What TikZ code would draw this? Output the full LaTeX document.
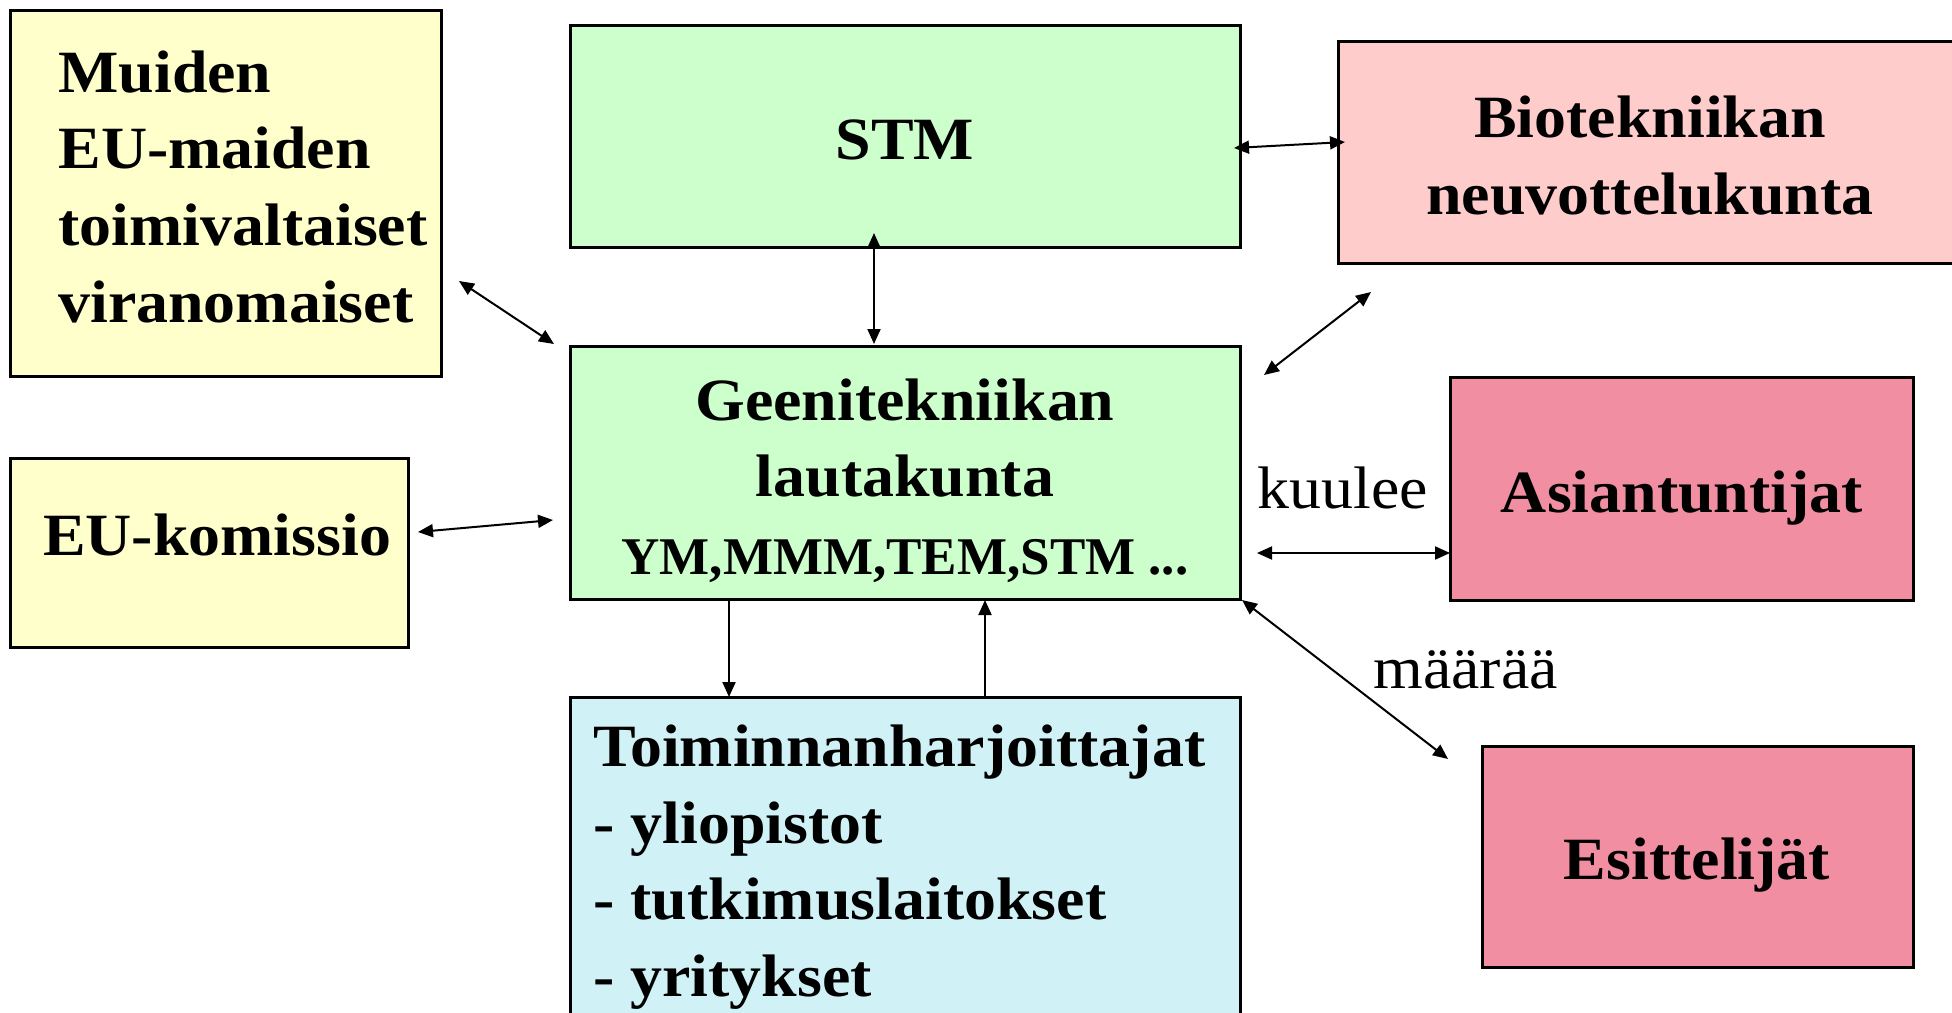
\documentclass[tikz,border=0pt]{standalone}
\usepackage{fontspec}
\setmainfont{Liberation Serif}[FakeStretch=1.065]
\newfontfamily\condfont{Liberation Serif}
\usetikzlibrary{arrows.meta,fit}
\definecolor{yel}{HTML}{FFFFCC}
\definecolor{grn}{HTML}{CCFFCC}
\definecolor{pnk}{HTML}{FFCCCC}
\definecolor{blu}{HTML}{D0F1F5}
\definecolor{redpat}{HTML}{F28EA2}
\tikzset{
  box/.style={draw=black, line width=1.5pt, inner sep=0pt},
  big/.style={font=\fontsize{30}{36}\selectfont\bfseries, inner sep=0pt},
  lbl/.style={font=\fontsize{30}{36}\selectfont, inner sep=0pt},
  tip/.tip={Triangle[length=7.5pt,width=6.5pt]},
  con/.style={line width=1pt, tip-tip},
  one/.style={line width=1pt, -tip},
}
\begin{document}
\begin{tikzpicture}[x=0.5pt,y=-0.5pt]
\useasboundingbox (0,0) rectangle (1952,1012);
% boxes
\node[box, fill=yel, fit={(10,10)(441,376)}] (muiden) {};
\node[box, fill=grn, fit={(570,25)(1240,247)}] (stm) {};
\node[box, fill=pnk, fit={(1338,41)(1965,263)}] (bio) {};
\node[box, fill=grn, fit={(570,346)(1240,599)}] (geeni) {};
\node[box, fill=yel, fit={(10,458)(408,647)}] (eu) {};
\node[box, fill=redpat, fit={(1450,377)(1913,600)}] (asi) {};
\node[box, fill=redpat, fit={(1482,746)(1913,967)}] (esi) {};
\node[box, fill=blu, fit={(570,697)(1240,1025)}] (toimi) {};
% texts
\node[big, anchor=base west] (m1) at (58,92) {Muiden};
\node[big, anchor=base west] (m2) at (58,168) {EU-maiden};
\node[big, anchor=base west] (m3) at (58,245) {toimivaltaiset};
\node[big, anchor=base west] (m4) at (58,322) {viranomaiset};
\node[big, anchor=base] (stmt) at (905,159) {STM};
\node[big, anchor=base] (b1) at (1650,137) {Biotekniikan};
\node[big, anchor=base] (b2) at (1650,214) {neuvottelukunta};
\node[big, anchor=base] (g1) at (905,420) {Geenitekniikan};
\node[big, anchor=base] (g2) at (905,496) {lautakunta};
\node[inner sep=0pt, anchor=base, font=\fontsize{26.5}{30}\condfont\bfseries] (g3) at (905,574) {YM,MMM,TEM,STM ...};
\node[big, anchor=base] (eut) at (217,555) {EU-komissio};
\node[big, anchor=base] (asit) at (1682,512) {Asiantuntijat};
\node[big, anchor=base] (esit) at (1697,879) {Esittelijät};
\node[big, anchor=base west] (t1) at (593,766) {Toiminnanharjoittajat};
\node[big, anchor=base west] (t2) at (593,843) {- yliopistot};
\node[big, anchor=base west] (t3) at (593,919) {- tutkimuslaitokset};
\node[big, anchor=base west] (t4) at (593,996) {- yritykset};
\node[lbl, anchor=base west] (kuulee) at (1257,508) {kuulee};
\node[lbl, anchor=base west] (maaraa) at (1373,688) {määrää};
% connector end points
\coordinate (a1) at (459,281); \coordinate (a2) at (554,344);
\coordinate (b1s) at (874,233); \coordinate (b2s) at (874,344);
\coordinate (c1) at (1234,148); \coordinate (c2) at (1345,142);
\coordinate (d1) at (1264,375); \coordinate (d2) at (1371,292);
\coordinate (e1) at (418,532); \coordinate (e2) at (553,520);
\coordinate (f1) at (1257,553); \coordinate (f2) at (1450,553);
\coordinate (h1) at (1242,600); \coordinate (h2) at (1448,759);
\coordinate (i1) at (729,599); \coordinate (i2) at (729,697);
\coordinate (j1) at (985,697); \coordinate (j2) at (985,600);
% connectors
\draw[con] (a1) -- (a2);
\draw[con] (b1s) -- (b2s);
\draw[con] (c1) -- (c2);
\draw[con] (d1) -- (d2);
\draw[con] (e1) -- (e2);
\draw[con] (f1) -- (f2);
\draw[con] (h1) -- (h2);
\draw[one] (i1) -- (i2);
\draw[one] (j1) -- (j2);
\end{tikzpicture}
\end{document}
